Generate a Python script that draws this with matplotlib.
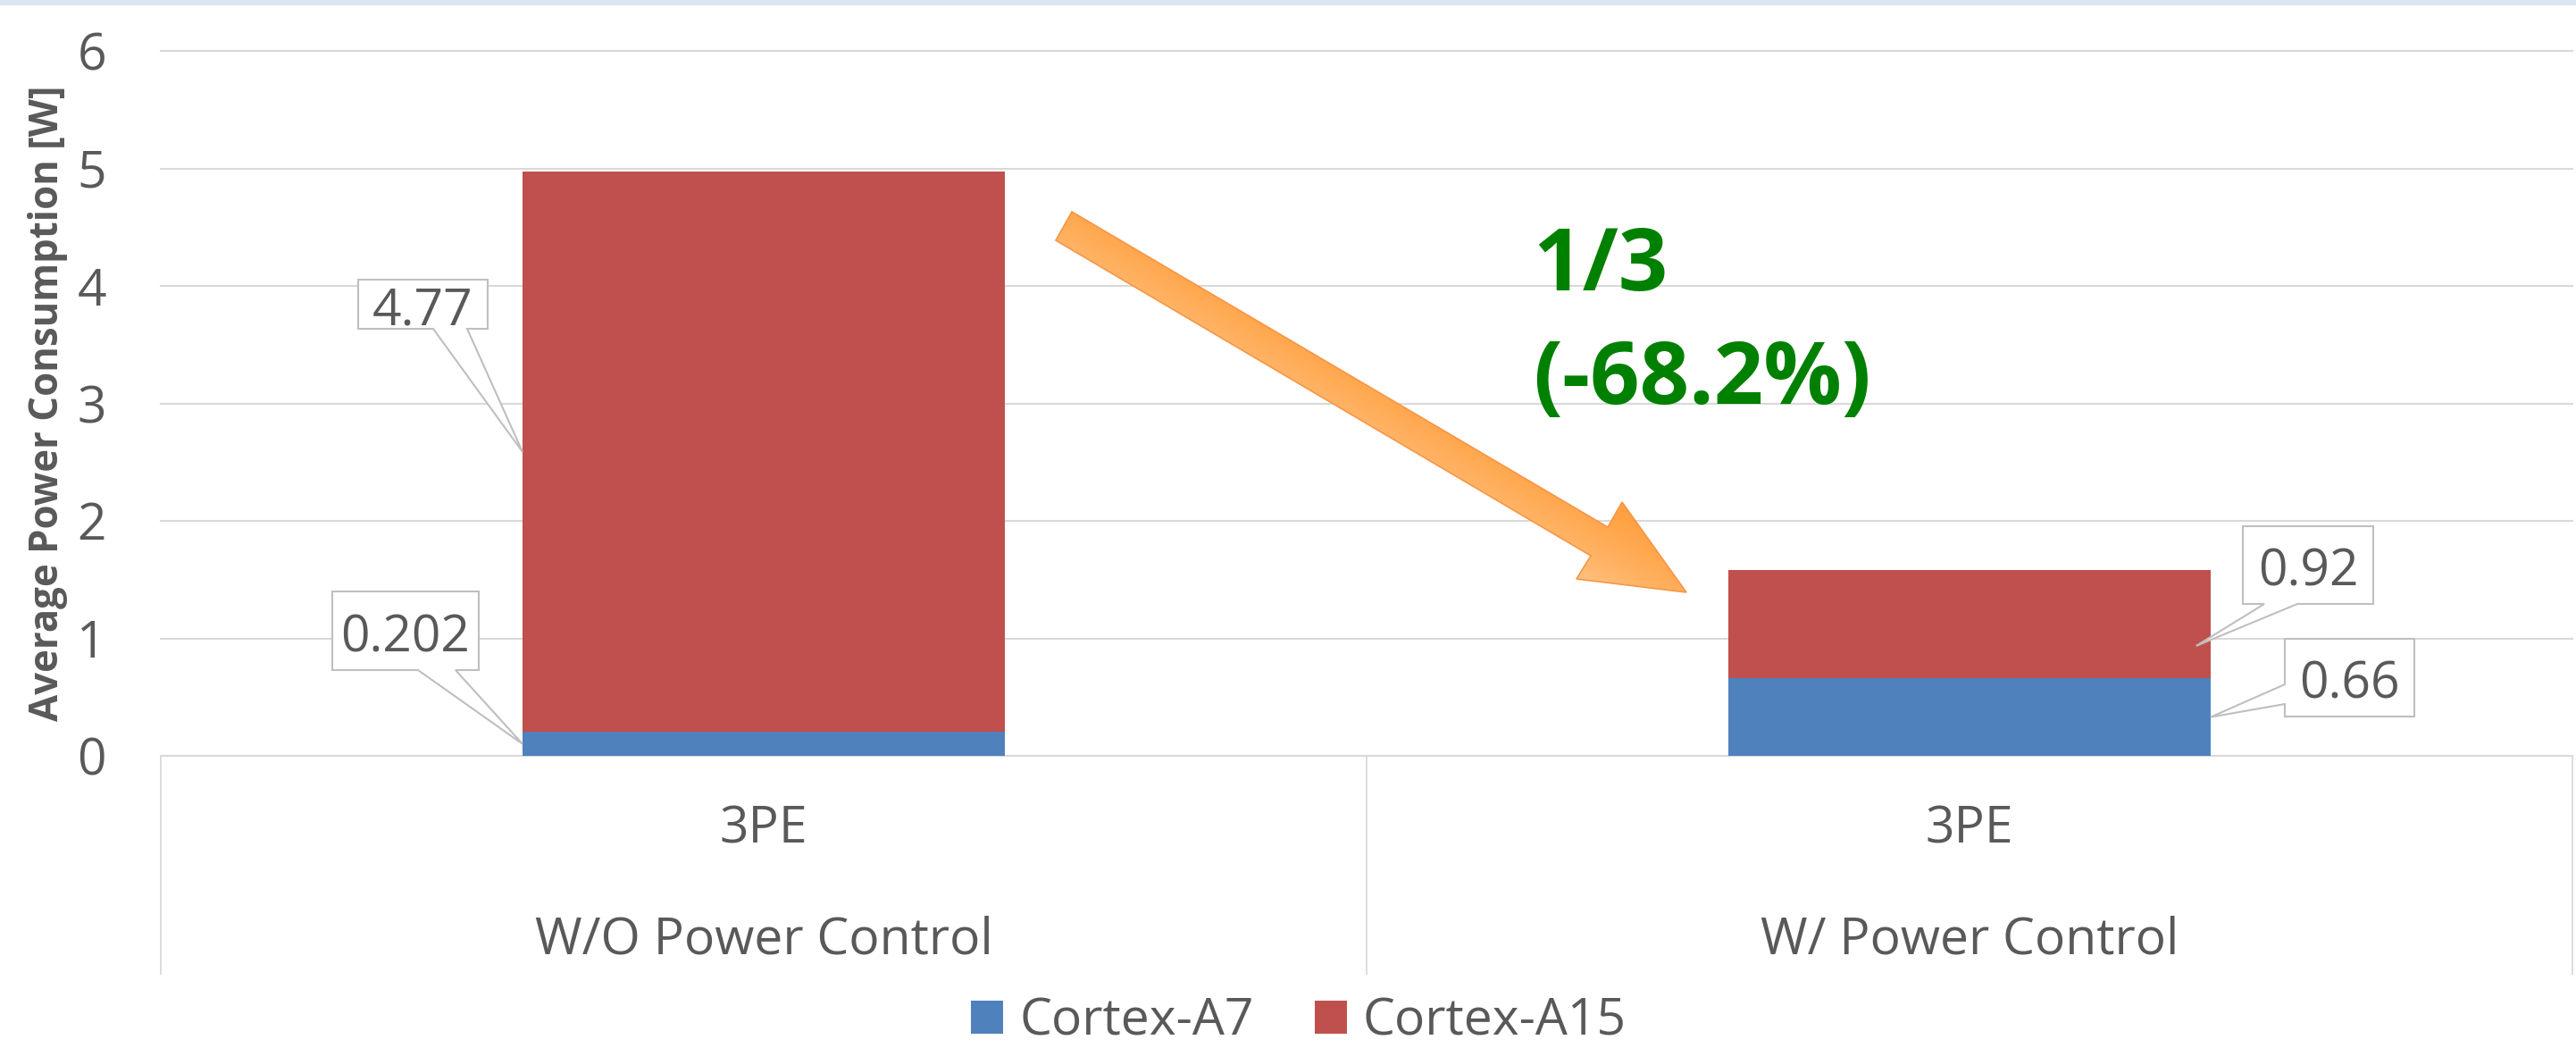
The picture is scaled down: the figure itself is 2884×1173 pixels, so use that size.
import matplotlib
matplotlib.use('Agg')
import matplotlib.pyplot as plt
import numpy as np
from matplotlib.patches import Polygon, Rectangle
from matplotlib.colors import LinearSegmentedColormap

# chart data
groups = ['W/O Power Control', 'W/ Power Control']
sub_labels = ['3PE', '3PE']
series = ['Cortex-A7', 'Cortex-A15']
a7_power = [0.202, 0.66]
a15_power = [4.77, 0.92]
y_ticks = [0, 1, 2, 3, 4, 5, 6]
y_label = 'Average Power Consumption [W]'
reduction_text = ['1/3', '(-68.2%)']

W, H, DPI = 2884, 1173, 100
GRAY = '#595959'
GRID = '#D9D9D9'
BLUE = '#4F81BD'
RED = '#C0504D'
LABEL_SIZE = 41

plt.rcParams['font.family'] = ['Open Sans', 'DejaVu Sans']

fig = plt.figure(figsize=(W / DPI, H / DPI), dpi=DPI)
ax = fig.add_axes([180 / W, 1 - 846 / H, 2700 / W, 789 / H])

x = np.arange(len(groups))
bw = 0.4
b1 = ax.bar(x, a7_power, bw, color=BLUE, label=series[0], zorder=2)
b2 = ax.bar(x, a15_power, bw, bottom=a7_power, color=RED, label=series[1], zorder=2)

ax.set_xlim(-0.5, 1.5)
ax.set_ylim(0, 6)
ax.set_yticks(y_ticks)
ax.set_xticks([])
ax.tick_params(axis='y', length=0, pad=44, labelsize=LABEL_SIZE, labelcolor=GRAY)
ax.grid(axis='y', color=GRID, linewidth=1.5, zorder=0)
ax.set_axisbelow(True)
for line in ax.get_ygridlines():
    line.set_clip_on(False)
for s in ax.spines.values():
    s.set_visible(False)

# category axis box
xt = ax.get_xaxis_transform()
for xb in [-0.5, 0.5, 1.5]:
    ax.plot([xb, xb], [0, -0.309], transform=xt, color=GRID, lw=1.3, clip_on=False)
for i in range(len(groups)):
    ax.text(x[i], -0.105, sub_labels[i], transform=xt, ha='center', va='center',
            fontsize=LABEL_SIZE, color=GRAY)
    ax.text(x[i], -0.262, groups[i], transform=xt, ha='center', va='center',
            fontsize=LABEL_SIZE, color=GRAY)

# overlay in pixel coords (origin top-left)
ov = fig.add_axes([0, 0, 1, 1], zorder=5)
ov.set_xlim(0, W)
ov.set_ylim(H, 0)
ov.axis('off')
ov.patch.set_visible(False)


def to_px(xd, yd):
    d = ax.transData.transform((xd, yd))
    return d[0], H - d[1]


ov.add_patch(Rectangle((0, 0), W, 6, color='#DCE6F2', lw=0))

ov.text(54, 451, y_label, rotation=90, ha='center', va='center',
        fontsize=31.5, fontweight='bold', color=GRAY)


def callout(box, tip, base, side, text):
    x0, y0, x1, y1 = box
    if side == 'bottom':
        pts = [(x0, y0), (x1, y0), (x1, y1), (base[1], y1), tip, (base[0], y1), (x0, y1)]
    else:
        pts = [(x0, y0), (x1, y0), (x1, y1), (x0, y1), (x0, base[1]), tip, (x0, base[0])]
    ov.add_patch(Polygon(pts, closed=True, facecolor='white', edgecolor='#BFBFBF', lw=1.5))
    ov.text((x0 + x1) / 2, (y0 + y1) / 2 + 2, text, ha='center', va='center_baseline',
            fontsize=LABEL_SIZE, color=GRAY)


callout((401, 313, 546, 368), to_px(x[0] - bw / 2, a7_power[0] + a15_power[0] / 2),
        (485, 523), 'bottom', f'{a15_power[0]:g}')
callout((372, 662, 536, 750), to_px(x[0] - bw / 2, a7_power[0] / 2),
        (468, 510), 'bottom', f'{a7_power[0]:g}')
callout((2511, 589, 2657, 676), to_px(x[1] + bw / 2 - 0.012, a7_power[1] + a15_power[1] * 0.3),
        (2535, 2572), 'bottom', f'{a15_power[1]:g}')
callout((2558, 715, 2703, 802), to_px(x[1] + bw / 2, a7_power[1] / 2),
        (766, 788), 'left', f'{a7_power[1]:g}')

# big orange arrow with gradient fill
arrow_pts = np.array([(1200, 237), (1800, 590), (1816, 562), (1888, 663),
                      (1765, 648), (1781, 622), (1182, 269)], dtype=float)
arrow = Polygon(arrow_pts, closed=True, facecolor='none', edgecolor='#F79646', lw=1.2, zorder=3)
ov.add_patch(arrow)
xmin, ymin = arrow_pts.min(axis=0)
xmax, ymax = arrow_pts.max(axis=0)
gx, gy = np.meshgrid(np.linspace(xmin, xmax, 300), np.linspace(ymin, ymax, 300))
d = np.array([1888 - 1191, 663 - 253], dtype=float)
d /= np.hypot(*d)
n = np.array([d[1], -d[0]])
t = (gx - 1191) * n[0] + (gy - 253) * n[1]
tp = (arrow_pts[:, 0] - 1191) * n[0] + (arrow_pts[:, 1] - 253) * n[1]
t = np.clip((t - tp.min()) / (tp.max() - tp.min()), 0, 1) ** 0.7
cmap = LinearSegmentedColormap.from_list('org', ['#FFC586', '#FF9E3D'])
im = ov.imshow(t, extent=(xmin, xmax, ymax, ymin), origin='upper', cmap=cmap,
               aspect='auto', zorder=2, interpolation='bilinear')
im.set_clip_path(arrow)
ov.set_xlim(0, W)
ov.set_ylim(H, 0)

ov.text(1716, 325, reduction_text[0], ha='left', va='baseline', fontsize=70,
        fontweight='bold', color='#008000')
ov.text(1716, 452, reduction_text[1], ha='left', va='baseline', fontsize=70,
        fontweight='bold', color='#008000')

fig.legend(handles=[b1, b2], labels=series, loc='center',
           bbox_to_anchor=(1454 / W, 1 - 1144 / H), ncol=2, frameon=False,
           fontsize=LABEL_SIZE, handlelength=0.63, handleheight=0.63,
           handletextpad=0.32, columnspacing=1.2, labelcolor=GRAY)

fig.savefig('out.png', dpi=DPI)
